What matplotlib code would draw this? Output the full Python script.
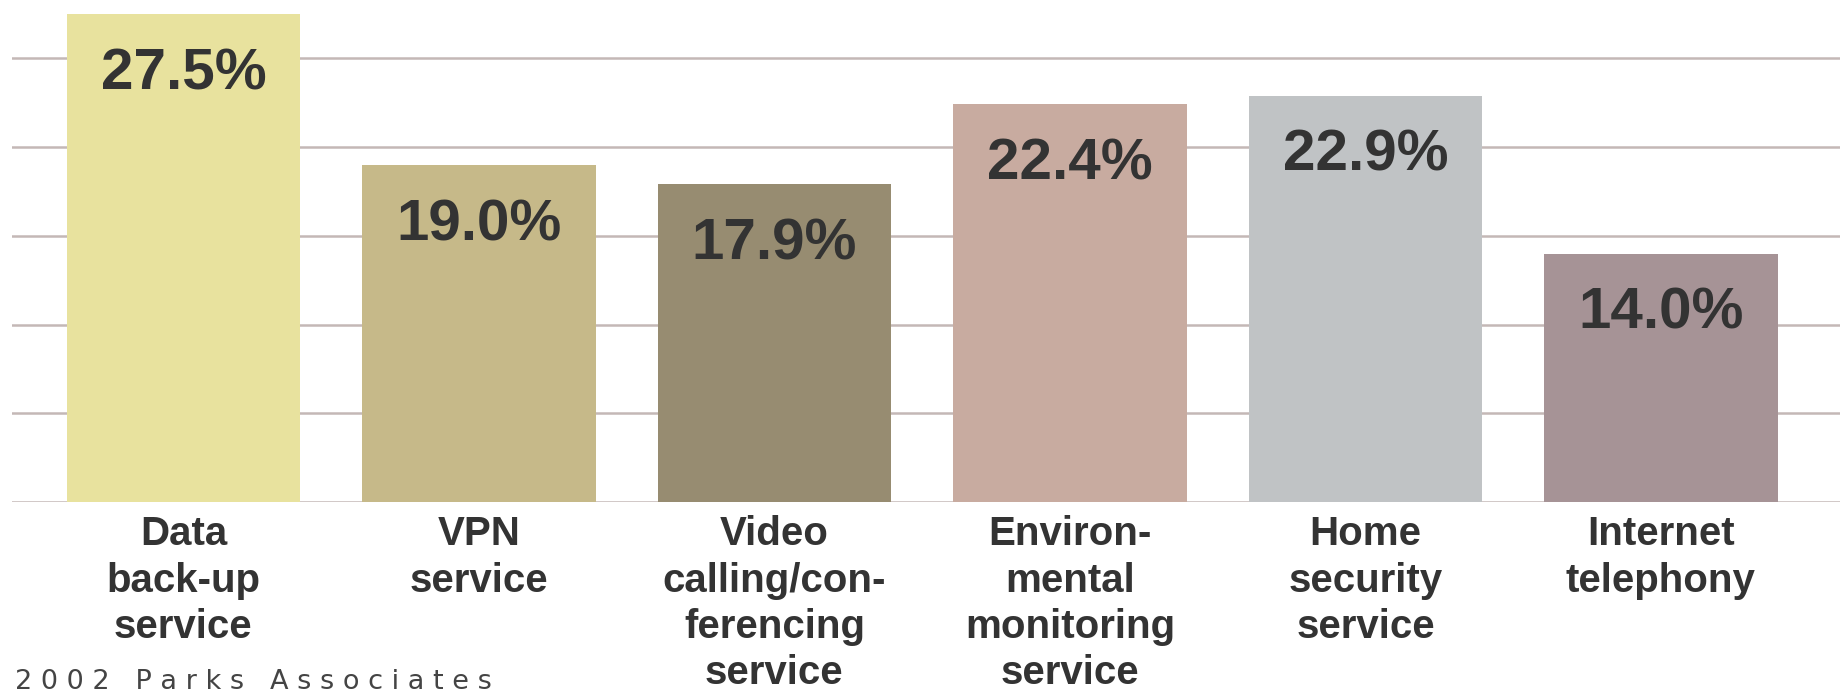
import matplotlib
matplotlib.use("Agg")
import matplotlib.pyplot as plt

categories = [
    "Data\nback-up\nservice",
    "VPN\nservice",
    "Video\ncalling/con-\nferencing\nservice",
    "Environ-\nmental\nmonitoring\nservice",
    "Home\nsecurity\nservice",
    "Internet\ntelephony",
]
values = [27.5, 19.0, 17.9, 22.4, 22.9, 14.0]
value_labels = ["27.5%", "19.0%", "17.9%", "22.4%", "22.9%", "14.0%"]
colors = ["#e8e29e", "#c6b989", "#978c71", "#c8aba0", "#c0c3c5", "#a69396"]
grid_ticks = [0, 5, 10, 15, 20, 25]
credit = "2002 Parks Associates"

W, H = 1843, 692
fig = plt.figure(figsize=(W / 100, H / 100), dpi=100)
fig.patch.set_facecolor("white")

ax = fig.add_axes([12 / W, (H - 502) / H, (1840 - 12) / W, (502 - 5) / H])
ax.set_facecolor("white")

x = list(range(len(values)))
ax.bar(x, values, width=0.79, color=colors, zorder=3, linewidth=0)

ax.set_xlim(-0.580, 5.606)
ax.set_ylim(0, 28.0)

ax.set_yticks(grid_ticks)
ax.yaxis.grid(True, color="#c4b8b6", linewidth=1.8, zorder=0)
ax.set_axisbelow(True)
ax.tick_params(axis="y", length=0, labelleft=False)

ax.set_xticks(x)
ax.set_xticklabels(categories, fontfamily=["Liberation Sans", "DejaVu Sans"],
                   fontweight="bold", fontsize=29, color="#333333",
                   linespacing=1.28)
ax.tick_params(axis="x", length=0, pad=9.5)

for s in ax.spines.values():
    s.set_visible(False)

for xi, v, lab in zip(x, values, value_labels):
    ax.text(xi, v - 4.25, lab, ha="center", va="baseline",
            fontfamily=["Liberation Sans", "DejaVu Sans"], fontweight="bold",
            fontsize=42, color="#333333", zorder=5)

spaced = " ".join(credit)
fig.text(15 / W, 3 / H, spaced, ha="left", va="baseline",
         fontfamily=["DejaVu Sans"], fontsize=19.5, color="#444444")

fig.savefig("out.png", dpi=100, facecolor="white")
